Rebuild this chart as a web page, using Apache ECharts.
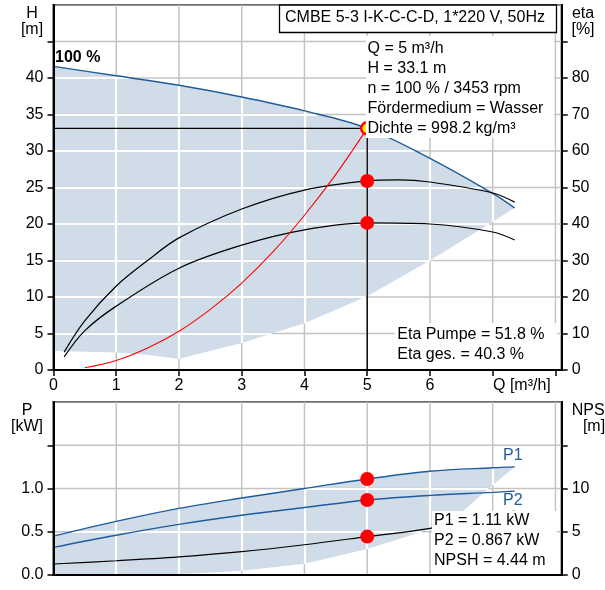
<!DOCTYPE html>
<html><head><meta charset="utf-8">
<script src="https://cdn.jsdelivr.net/npm/echarts@6/dist/echarts.min.js"></script>
<style>html,body{margin:0;padding:0;background:#fff}#c{width:605px;height:590px}</style>
</head><body><div id="c"></div>
<script>
// ---- ticks ----
const qMax = 8.1;
const qTicks = [0, 1, 2, 3, 4, 5, 6, 7, 8];
const qLabels = [0, 1, 2, 3, 4, 5, 6];
const hTicks = [0, 5, 10, 15, 20, 25, 30, 35, 40, 45, 50];
const hLabels = [0, 5, 10, 15, 20, 25, 30, 35, 40];
const etaTicks = [0, 10, 20, 30, 40, 50, 60, 70, 80, 90];
const etaLabels = [0, 10, 20, 30, 40, 50, 60, 70, 80];
const pTicks = [0, 0.5, 1.0, 1.5, 2.0];
const pLabels = [0, 0.5, 1.0];
const npshTicks = [0, 5, 10, 15];
const npshLabels = [0, 5, 10];

// ---- curves [Q, value] ----
const qhMax = [[0,41.6],[1,40.3],[2,39.0],[3,37.4],[4,35.5],[5,33.1],[6,29.0],[7,24.2],[7.35,22.2]];
const qhMin = [[0,2.6],[1,2.4],[1.5,2.1],[2,1.5],[2.3,2.2],[3,3.7],[4,6.4],[5,10.1],[6,15.0],[7,20.3],[7.35,22.2]];
const etaPump = [[0.17,4.9],[0.5,13.5],[1,23.0],[1.5,30.0],[2,36.2],[3,44.1],[4,49.3],[5,51.8],[5.5,52.1],[6,51.5],[7,48.5],[7.35,46.0]];
const etaTotal = [[0.17,3.6],[0.5,10.8],[1,17.5],[2,27.9],[3,34.2],[4,38.4],[5,40.3],[6,40.0],[7,37.8],[7.35,35.6]];
const systemCurve = [[0.5,0.3],[1,1.3],[1.5,3.0],[2,5.3],[2.5,8.3],[3,11.9],[3.5,16.2],[4,21.2],[4.5,26.8],[5,33.1]];
const p1Curve = [[0,0.45],[1,0.62],[2,0.77],[3,0.89],[4,1.0],[5,1.11],[6,1.20],[7,1.24],[7.35,1.25]];
const p2Curve = [[0,0.32],[1,0.46],[2,0.585],[3,0.69],[4,0.78],[5,0.867],[6,0.92],[7,0.955],[7.35,0.97]];
const npshCurve = [[0,1.27],[1,1.65],[2,2.1],[3,2.7],[4,3.5],[5,4.44],[6,5.4],[7,6.9],[7.35,7.4]];
const pMin = [[0,0],[1,0],[2,0.01],[3,0.05],[4,0.13],[5,0.30],[6.05,0.54],[6.5,0.72],[6.9,0.98],[7.35,1.25]];

// ---- duty point ----
const dutyQ = 5, dutyH = 33.1, dutyEtaP = 51.8, dutyEtaG = 40.3, dutyP1 = 1.11, dutyP2 = 0.867, dutyNpsh = 4.44;

// ---- texts ----
const titleText = 'CMBE 5-3 I-K-C-C-D, 1*220 V, 50Hz';
const infoLines = ['Q = 5 m³/h', 'H = 33.1 m', 'n = 100 % / 3453 rpm', 'Fördermedium = Wasser', 'Dichte = 998.2 kg/m³'];
const etaLines = ['Eta Pumpe = 51.8 %', 'Eta ges. = 40.3 %'];
const powerLines = ['P1 = 1.11 kW', 'P2 = 0.867 kW', 'NPSH = 4.44 m'];

const FONT = '"Liberation Sans", Arial, sans-serif';
const FILL = '#d0dce8';
const GREY = '#c4c4c4';
const BLUE = '#1f5c9c';

const chart = echarts.init(document.getElementById('c'));

function interp(arr, q) {
  if (q < arr[0][0] - 1e-9 || q > arr[arr.length - 1][0] + 1e-9) return null;
  for (let i = 0; i < arr.length - 1; i++) {
    const a = arr[i], b = arr[i + 1];
    if (q >= a[0] - 1e-9 && q <= b[0] + 1e-9) {
      const t = b[0] === a[0] ? 0 : (q - a[0]) / (b[0] - a[0]);
      return a[1] + t * (b[1] - a[1]);
    }
  }
  return null;
}

// full grid lines (grey), one line series per grid line
function greyGrid(xi, yi, yTicks) {
  const out = [];
  const yLo = yTicks[0], yHi = yTicks[yTicks.length - 1];
  const mk = pts => ({type: 'line', xAxisIndex: xi, yAxisIndex: yi, data: pts, symbol: 'none', showSymbol: false,
    smooth: false, silent: true, animation: false, z: 2, lineStyle: {color: GREY, width: 1.5, opacity: 1}});
  qTicks.forEach(q => out.push(mk([[q, yLo], [q, yHi]])));
  yTicks.forEach(v => out.push(mk([[0, v], [qMax, v]])));
  return out;
}

// grid-line pieces that fall inside the operating band (drawn white over the grey ones)
function insideSegments(upper, lower, yTicks) {
  const segs = [];
  const qa = upper[0][0], qb = upper[upper.length - 1][0];
  qTicks.forEach(q => {
    const lo = interp(lower, q), hi = interp(upper, q);
    if (q > 0 && lo !== null && hi !== null && hi > lo) segs.push({coords: [[q, lo], [q, hi]]});
  });
  yTicks.forEach(v => {
    if (v <= 0) return;
    let start = null, prev = null;
    for (let q = qa; q <= qb + 1e-9; q += 0.004) {
      const lo = interp(lower, q), hi = interp(upper, q);
      const inside = lo !== null && hi !== null && lo <= v && v <= hi;
      if (inside && start === null) start = q;
      if (!inside && start !== null) { segs.push({coords: [[start, v], [prev, v]]}); start = null; }
      prev = q;
    }
    if (start !== null) segs.push({coords: [[start, v], [prev, v]]});
  });
  return segs;
}

function band(xi, yi, upper, lower) {
  return {
    type: 'custom', xAxisIndex: xi, yAxisIndex: yi, z: 1, silent: true, animation: false,
    data: [[0, 0]],
    renderItem: function (params, api) {
      const pts = upper.concat(lower.slice().reverse()).map(p => api.coord(p));
      return {type: 'polygon', shape: {points: pts}, style: {fill: FILL}};
    }
  };
}

function whiteGrid(xi, yi, segs) {
  return {type: 'lines', coordinateSystem: 'cartesian2d', xAxisIndex: xi, yAxisIndex: yi, z: 3, silent: true,
    animation: false, polyline: false, data: segs,
    lineStyle: {color: '#ffffff', width: 2.2, opacity: 1, curveness: 0}};
}

function lineS(xi, yi, data, color, width, smooth) {
  return {type: 'line', xAxisIndex: xi, yAxisIndex: yi, data: data, smooth: smooth === undefined ? 0.35 : smooth,
    symbol: 'none', showSymbol: false, silent: true, animation: false, z: 5,
    lineStyle: {color: color, width: width}};
}

function dots(xi, yi, data) {
  return {type: 'scatter', xAxisIndex: xi, yAxisIndex: yi, data: data, symbol: 'circle', symbolSize: 14,
    itemStyle: {color: '#ff0000', opacity: 1}, z: 8, silent: true, animation: false};
}

const axisLbl = {color: '#000', fontSize: 16, fontFamily: FONT};
function yAx(gi, pos, min, max, interval, ticks, labels, fmt) {
  return {type: 'value', gridIndex: gi, position: pos, min: min, max: max, interval: interval, z: 10,
    axisLine: {show: true, onZero: false, lineStyle: {color: '#000', width: 2}},
    axisTick: {show: true, length: 6, lineStyle: {color: '#000', width: 1.5}, customValues: ticks},
    axisLabel: Object.assign({margin: 10, customValues: labels, formatter: fmt}, axisLbl),
    splitLine: {show: false}};
}

const option = {
  animation: false,
  backgroundColor: '#fff',
  grid: [
    {left: 53.5, right: 43.3, top: 5, height: 365, show: true, z: 0, backgroundColor: 'transparent', borderColor: '#000', borderWidth: 2, containLabel: false, outerBoundsMode: 'none'},
    {left: 53.5, right: 43.3, top: 402, height: 173, show: true, z: 0, backgroundColor: 'transparent', borderColor: '#000', borderWidth: 2, containLabel: false, outerBoundsMode: 'none'}
  ],
  xAxis: [
    {type: 'value', gridIndex: 0, min: 0, max: qMax, interval: 1, z: 10,
      axisLine: {show: true, onZero: false, lineStyle: {color: '#000', width: 2}},
      axisTick: {show: true, length: 6, lineStyle: {color: '#000', width: 1.5}, customValues: qTicks},
      axisLabel: Object.assign({margin: 8, customValues: qLabels, formatter: v => (v <= 6 ? String(v) : '')}, axisLbl),
      splitLine: {show: false}},
    {type: 'value', gridIndex: 1, min: 0, max: qMax, interval: 1, z: 10,
      axisLine: {show: true, onZero: false, lineStyle: {color: '#000', width: 2}},
      axisTick: {show: false}, axisLabel: {show: false}, splitLine: {show: false}}
  ],
  yAxis: [
    yAx(0, 'left', 0, 50, 5, hTicks.slice(0, -1), hLabels, v => String(v)),
    yAx(0, 'right', 0, 100, 10, etaTicks, etaLabels, v => String(v)),
    yAx(1, 'left', 0, 2, 0.5, pTicks.slice(0, -1), pLabels, v => v.toFixed(1)),
    yAx(1, 'right', 0, 20, 5, npshTicks, npshLabels, v => String(v))
  ],
  series: [].concat(
    [band(0, 0, qhMax, qhMin)],
    greyGrid(0, 0, hTicks),
    [whiteGrid(0, 0, insideSegments(qhMax, qhMin, hTicks)),
    lineS(0, 0, qhMax, BLUE, 1.4),
    lineS(0, 1, etaPump, '#000', 1.2),
    lineS(0, 1, etaTotal, '#000', 1.2),
    lineS(0, 0, systemCurve, '#ff0000', 1.1),
    lineS(0, 0, [[0, dutyH], [dutyQ, dutyH]], '#000', 1.2, false),
    lineS(0, 0, [[dutyQ, 0], [dutyQ, dutyH]], '#000', 1.4, false),
    dots(0, 1, [[dutyQ, dutyEtaP], [dutyQ, dutyEtaG]]),
    {type: 'scatter', xAxisIndex: 0, yAxisIndex: 0, data: [[dutyQ, dutyH]], symbol: 'circle', symbolSize: 12,
      itemStyle: {color: '#ffee00', borderColor: '#ff0000', borderWidth: 2.5, opacity: 1}, z: 8, silent: true},
    band(1, 2, p1Curve, pMin)],
    greyGrid(1, 2, pTicks),
    [whiteGrid(1, 2, insideSegments(p1Curve, pMin, pTicks)),
    lineS(1, 2, p1Curve, BLUE, 1.4),
    lineS(1, 2, p2Curve, BLUE, 1.4),
    lineS(1, 3, npshCurve, '#000', 1.2),
    dots(1, 2, [[dutyQ, dutyP1], [dutyQ, dutyP2]]),
    dots(1, 3, [[dutyQ, dutyNpsh]])]
  ),
  graphic: [
    {type: 'text', x: 32, y: 6, z: 100, style: {text: 'H\n[m]', font: '16px ' + FONT, fill: '#000', align: 'center', textAlign: 'center', verticalAlign: 'top', textVerticalAlign: 'top', lineHeight: 16}},
    {type: 'text', x: 583, y: 6, z: 100, style: {text: 'eta\n[%]', font: '16px ' + FONT, fill: '#000', align: 'center', textAlign: 'center', verticalAlign: 'top', textVerticalAlign: 'top', lineHeight: 16}},
    {type: 'text', x: 27, y: 403, z: 100, style: {text: 'P\n[kW]', font: '16px ' + FONT, fill: '#000', align: 'center', textAlign: 'center', verticalAlign: 'top', textVerticalAlign: 'top', lineHeight: 16}},
    {type: 'text', x: 594, y: 403, z: 100, style: {text: 'NPSH\n[m]', font: '16px ' + FONT, fill: '#000', align: 'center', textAlign: 'center', verticalAlign: 'top', textVerticalAlign: 'top', lineHeight: 16}},
    {type: 'text', x: 493, y: 386, z: 100, style: {text: 'Q [m³/h]', font: '16px ' + FONT, fill: '#000', align: 'left', textAlign: 'left', verticalAlign: 'middle', textVerticalAlign: 'middle'}},
    {type: 'text', x: 55, y: 58, z: 100, style: {text: '100 %', font: 'bold 16px ' + FONT, fill: '#000', align: 'left', textAlign: 'left', verticalAlign: 'middle', textVerticalAlign: 'middle'}},
    {type: 'text', x: 503, y: 456, z: 100, style: {text: 'P1', font: '16px ' + FONT, fill: BLUE, align: 'left', textAlign: 'left', verticalAlign: 'middle', textVerticalAlign: 'middle'}},
    {type: 'text', x: 503, y: 501, z: 100, style: {text: 'P2', font: '16px ' + FONT, fill: BLUE, align: 'left', textAlign: 'left', verticalAlign: 'middle', textVerticalAlign: 'middle'}},
    {type: 'rect', z: 100, shape: {x: 279.5, y: 5, width: 277, height: 27.5}, style: {fill: '#fff', stroke: '#000', lineWidth: 1.3}},
    {type: 'text', x: 285, y: 18, z: 101, style: {text: titleText, font: '16px ' + FONT, fill: '#000', align: 'left', textAlign: 'left', verticalAlign: 'middle', textVerticalAlign: 'middle'}},
    {type: 'rect', z: 100, shape: {x: 366, y: 36, width: 188, height: 102}, style: {fill: '#fff'}},
    {type: 'text', x: 367.5, y: 38.3, z: 101, style: {text: infoLines.join('\n'), font: '16px ' + FONT, fill: '#000', align: 'left', textAlign: 'left', verticalAlign: 'top', textVerticalAlign: 'top', lineHeight: 20}},
    {type: 'rect', z: 100, shape: {x: 395, y: 323, width: 162, height: 46}, style: {fill: '#fff'}},
    {type: 'text', x: 397.3, y: 325.3, z: 101, style: {text: etaLines.join('\n'), font: '16px ' + FONT, fill: '#000', align: 'left', textAlign: 'left', verticalAlign: 'top', textVerticalAlign: 'top', lineHeight: 19.5}},
    {type: 'rect', z: 100, shape: {x: 432, y: 511, width: 125, height: 63}, style: {fill: '#fff'}},
    {type: 'text', x: 434, y: 511.2, z: 101, style: {text: powerLines.join('\n'), font: '16px ' + FONT, fill: '#000', align: 'left', textAlign: 'left', verticalAlign: 'top', textVerticalAlign: 'top', lineHeight: 19.6}}
  ]
};
chart.setOption(option);
</script></body></html>
